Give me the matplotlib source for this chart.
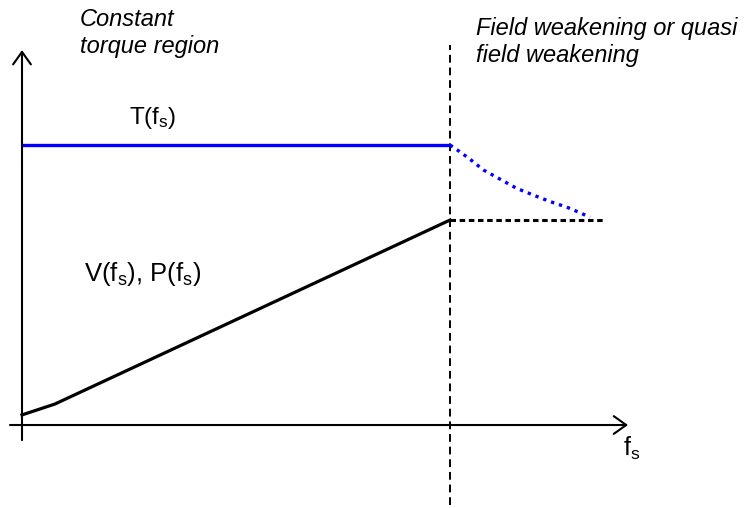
import matplotlib.pyplot as plt

plt.rcParams["font.family"] = ["Liberation Sans", "DejaVu Sans"]
plt.rcParams["mathtext.fontset"] = "custom"
plt.rcParams["mathtext.rm"] = "Liberation Sans"
plt.rcParams["mathtext.it"] = "Liberation Sans:italic"

# stator frequency normalised to base frequency (f = 1 at the region boundary)
f_torque = [0.0, 1.0]
torque = [1.0, 1.0]

f_weak = [1.0, 1.023, 1.047, 1.078, 1.117, 1.156, 1.195, 1.234, 1.273, 1.304, 1.327]
torque_weak = [1.0, 0.976, 0.949, 0.911, 0.878, 0.845, 0.821, 0.798, 0.778, 0.758, 0.742]

f_volt = [0.0, 0.077, 1.0]
volt = [0.036, 0.075, 0.732]

f_volt_flat = [1.0, 1.357]
volt_flat = [0.732, 0.732]

f_base = 1.0

fig = plt.figure(figsize=(7.45, 5.08), dpi=100)
ax = fig.add_axes([0, 0, 1, 1])
ax.set_xlim(-0.0514, 1.6893)
ax.set_ylim(-0.2964, 1.5179)
ax.axis("off")

# axes with open arrow heads
arrow = dict(arrowstyle="->,head_length=0.45,head_width=0.32", lw=1.5,
             color="black", mutation_scale=20, shrinkA=0, shrinkB=0)
ax.annotate("", xy=(0.0, 1.339), xytext=(0.0, -0.054), arrowprops=arrow)
ax.annotate("", xy=(1.416, 0.0), xytext=(-0.028, 0.0), arrowprops=arrow)

# boundary between the two regions
ax.plot([f_base, f_base], [-0.286, 1.357], color="black", lw=1.4,
        linestyle=(0, (4, 2.5)))

# torque
ax.plot(f_torque, torque, color="#0000ff", lw=2.4, solid_capstyle="butt")
ax.plot(f_weak, torque_weak, color="#0000ff", lw=2.4,
        linestyle=(0, (1, 1.5)))

# voltage / power
ax.plot(f_volt, volt, color="black", lw=2.3)
ax.plot(f_volt_flat, volt_flat, color="black", lw=2.2,
        linestyle=(0, (1.8, 1.2)))

W, H = 745, 508


def label(x, y, s, **kw):
    # y is the baseline of the last line, in pixels from the top
    fig.text(x / W, 1 - y / H, s, va="baseline", ha="left", **kw)


label(80, 53, "Constant\ntorque region", fontsize=17, style="italic",
      linespacing=1.25)
label(476, 62, "Field weakening or quasi\nfield weakening", fontsize=17,
      style="italic", linespacing=1.2)
label(129, 124, r"T(f$_\mathrm{s}$)", fontsize=17.5)
label(84, 281, r"V(f$_\mathrm{s}$), P(f$_\mathrm{s}$)", fontsize=18.5)
label(623, 456, r"f$_\mathrm{s}$", fontsize=18)

fig.savefig("out.png", dpi=100)
